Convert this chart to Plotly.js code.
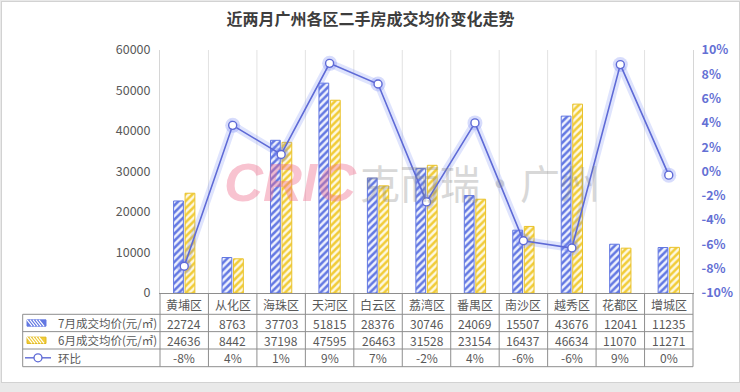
<!DOCTYPE html>
<html><head><meta charset="utf-8">
<script src="https://cdn.plot.ly/plotly-3.0.1.min.js"></script>
<style>
html,body{margin:0;padding:0;background:#e9e9e9;width:740px;height:392px;overflow:hidden;}
#wrap{position:absolute;left:1px;top:1px;width:737px;height:380px;border:1px solid #d2d2d2;background:#fff;}
#chart{width:737px;height:380px;}
</style></head>
<body><div id="wrap"><div id="chart"></div></div>
<script>
const districts = ['黄埔区','从化区','海珠区','天河区','白云区','荔湾区','番禺区','南沙区','越秀区','花都区','增城区'];
const julPrice = [22724,8763,37703,51815,28376,30746,24069,15507,43676,12041,11235];
const junPrice = [24636,8442,37198,47595,26463,31528,23154,16437,46634,11070,11271];
const momChange = [-7.8,3.8,1.4,8.9,7.2,-2.5,4.0,-5.7,-6.3,8.8,-0.3];
const momLabels = ['-8%','4%','1%','9%','7%','-2%','4%','-6%','-6%','9%','0%'];
const seriesNames = ['7月成交均价(元/㎡)','6月成交均价(元/㎡)','环比'];
const yTicks = [0,10000,20000,30000,40000,50000,60000];
const y2Ticks = [-10,-8,-6,-4,-2,0,2,4,6,8,10];

const FONT = '"Noto Sans CJK SC","Microsoft YaHei",sans-serif';
const BLUE = '#6378e2', YEL = '#f1cc38', LINE = '#5e6ad6', GRID = '#e2e2e2', TBL = '#8e8e8e';

const traces = [
  {type:'bar', x:districts, y:julPrice, name:seriesNames[0], yaxis:'y',
   marker:{color:'#ffffff', line:{color:BLUE,width:1},
     pattern:{shape:'/', fgcolor:BLUE, bgcolor:'#eef1fd', size:5, solidity:0.5}}, hoverinfo:'skip'},
  {type:'bar', x:districts, y:junPrice, name:seriesNames[1], yaxis:'y',
   marker:{color:'#ffffff', line:{color:'#e9c22c',width:1},
     pattern:{shape:'/', fgcolor:YEL, bgcolor:'#fdf8e2', size:5, solidity:0.5}}, hoverinfo:'skip'},
  {type:'scatter', mode:'lines+markers', x:districts, y:momChange, yaxis:'y2', showlegend:false,
   line:{color:'rgba(110,130,245,0.22)', width:8}, marker:{size:15, color:'rgba(110,130,245,0.28)'}, hoverinfo:'skip'},
  {type:'scatter', mode:'lines+markers', x:districts, y:momChange, yaxis:'y2', name:seriesNames[2],
   line:{color:LINE, width:1.6}, marker:{size:8, color:'#ffffff', line:{color:LINE,width:1.4}}}
];

// table geometry (paper coords)
const rowLines = [-0.0877,-0.159,-0.2305,-0.3033];
const rowCenters = [-0.0453,-0.1235,-0.1947,-0.2667];
const tblLeft = -0.2576;
const shapes = [];
for (let i = 0; i < districts.length - 1; i++) {
  shapes.push({type:'line', xref:'x', yref:'paper', x0:i+0.5, x1:i+0.5, y0:0, y1:1, line:{color:GRID,width:1}, layer:'below'});
  shapes.push({type:'line', xref:'x', yref:'paper', x0:i+0.5, x1:i+0.5, y0:0, y1:rowLines[3], line:{color:TBL,width:1}});
}
shapes.push({type:'line', xref:'paper', yref:'paper', x0:0, x1:0, y0:0, y1:rowLines[3], line:{color:TBL,width:1}});
shapes.push({type:'line', xref:'paper', yref:'paper', x0:1, x1:1, y0:0, y1:rowLines[3], line:{color:TBL,width:1}});
shapes.push({type:'line', xref:'paper', yref:'paper', x0:tblLeft, x1:tblLeft, y0:rowLines[0], y1:rowLines[3], line:{color:TBL,width:1}});
rowLines.forEach(r => shapes.push({type:'line', xref:'paper', yref:'paper', x0:tblLeft, x1:1, y0:r, y1:r, line:{color:TBL,width:1}}));

// legend swatches in the first column
function swatch(y0, y1, stroke, fill) {
  const x0 = -0.2495, x1 = -0.2139;
  shapes.push({type:'rect', xref:'paper', yref:'paper', x0:x0, x1:x1, y0:y0, y1:y1, fillcolor:fill, line:{color:stroke,width:1}});
  let p = '';
  const W = 533;
  for (let k = 0; k < 7; k++) {
    const xs = x0 + (k*3)/W, xe = xs + 5/W;
    if (xe > x1) break;
    p += `M${xs},${y1} L${xe},${y0} `;
  }
  shapes.push({type:'path', xref:'paper', yref:'paper', path:p, line:{color:'#ffffff',width:1.2}});
}
swatch(-0.1365, -0.1105, BLUE, BLUE);
swatch(-0.2077, -0.1817, '#e0b820', YEL);
shapes.push({type:'line', xref:'paper', yref:'paper', x0:-0.2533, x1:-0.2045, y0:rowCenters[3], y1:rowCenters[3], line:{color:LINE,width:1.4}});
shapes.push({type:'circle', xref:'paper', yref:'paper', x0:-0.2364, x1:-0.2214, y0:rowCenters[3]-0.0165, y1:rowCenters[3]+0.0165, fillcolor:'#ffffff', line:{color:LINE,width:1.3}});

const annotations = [];
const TXT = '#595959';
function cell(x, y, text, size, xref, xanchor) {
  annotations.push({xref:xref||'x', yref:'paper', x:x, y:y, text:text, showarrow:false, borderpad:0,
    xanchor:xanchor||'center', yanchor:'middle', font:{family:FONT,size:size,color:TXT}});
}
districts.forEach((d,i) => {
  cell(d, rowCenters[0], d, 12);
  cell(d, rowCenters[1], String(julPrice[i]), 12);
  cell(d, rowCenters[2], String(junPrice[i]), 12);
  cell(d, rowCenters[3], momLabels[i], 12);
});
[1,2,3].forEach(r => cell(-0.1932, rowCenters[r], seriesNames[r-1], 11.5, 'paper', 'left'));
// watermark
annotations.push({xref:'paper', yref:'paper', x:0.244, y:0.457, xanchor:'center', yanchor:'middle', text:'<b><i>CRIC</i></b>', showarrow:false, opacity:0.4,
  font:{family:'Liberation Sans, Arial, sans-serif', size:54, color:'#f06a8c'}});
annotations.push({xref:'paper', yref:'paper', x:0.60, y:0.455, xanchor:'center', yanchor:'middle', text:'克而瑞·广州', showarrow:false, opacity:0.33,
  font:{family:FONT, size:40, color:'#8a8a8a'}});

const layout = {
  width:737, height:380,
  margin:{l:158, r:46, t:48, b:89},
  paper_bgcolor:'#ffffff', plot_bgcolor:'#ffffff',
  title:{text:'<b>近两月广州各区二手房成交均价变化走势</b>', x:0.5, xanchor:'center', y:0.955, yanchor:'middle',
    font:{family:FONT, size:16, color:'#3d3d3d'}},
  showlegend:false,
  barmode:'group', bargap:0.525, bargroupgap:0.15,
  xaxis:{type:'category', range:[-0.5,10.5], showticklabels:false, ticks:'', showgrid:false, zeroline:false,
    showline:true, linecolor:TBL, linewidth:1, fixedrange:true},
  yaxis:{range:[0,60000], tickvals:yTicks, ticktext:yTicks.map(String), showgrid:false, zeroline:false,
    showline:true, linecolor:'#d6d6d6', ticks:'', ticklabelstandoff:6,
    tickfont:{family:FONT, size:12.5, color:TXT}},
  yaxis2:{overlaying:'y', side:'right', range:[-10,10], tickvals:y2Ticks, ticktext:y2Ticks.map(v=>v+'%'),
    showgrid:false, zeroline:false, showline:true, linecolor:'#d6d6d6', ticks:'', ticklabelstandoff:5,
    tickfont:{family:FONT, size:12.5, color:'#6470d4', weight:'bold'}},
  shapes:shapes, annotations:annotations
};
Plotly.newPlot('chart', traces, layout, {displayModeBar:false, staticPlot:true});
</script></body></html>
